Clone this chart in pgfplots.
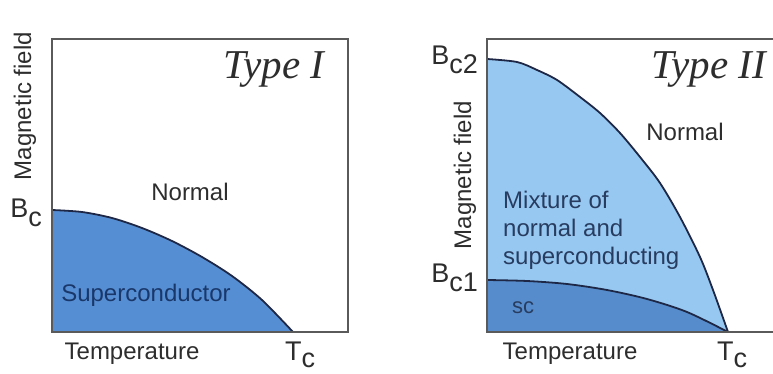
\documentclass[border=0pt]{standalone}
\usepackage{pgfplots}
\pgfplotsset{compat=1.18}
\usepackage{fontspec}
\setmainfont{Liberation Sans}
\newfontfamily\serifit{Liberation Serif}
\definecolor{leftfill}{RGB}{86,142,212}
\definecolor{lightfill}{RGB}{150,200,242}
\definecolor{scfill}{RGB}{86,140,204}
\definecolor{curvec}{RGB}{30,40,70}
\definecolor{boxc}{RGB}{90,90,90}
\definecolor{txt}{RGB}{45,45,45}
\definecolor{bluetxt}{RGB}{25,55,105}
\definecolor{navytxt}{RGB}{40,60,95}
\pgfplotsset{
  panel/.style={anchor=south west, scale only axis, width=296pt, height=293pt,
    xmin=0, xmax=296, ymin=0, ymax=293, xtick=\empty, ytick=\empty,
    axis on top, axis line style={draw=boxc, line width=2pt}, clip=false},
}
\tikzset{
  lab/.style={font=\fontsize{24}{28}\selectfont, inner sep=0pt, text=txt},
  sym/.style={font=\fontsize{27}{30}\selectfont, inner sep=0pt, text=txt},
  typ/.style={font=\serifit\itshape\fontsize{41}{44}\selectfont, inner sep=0pt, text=txt},
}
\begin{document}
\begin{tikzpicture}[x=1pt,y=1pt]
\useasboundingbox (0,0) rectangle (773,374);
% Type I
\begin{axis}[panel, at={(52pt,42pt)}]
\addplot[fill=leftfill, draw=none, smooth] coordinates {(0,122) (30,120) (60,114) (90,104) (120,91) (150,75) (180,56) (210,32) (241,0)} \closedcycle;
\addplot[draw=curvec, line width=1.8pt, smooth] coordinates {(0,122) (30,120) (60,114) (90,104) (120,91) (150,75) (180,56) (210,32) (241,0)};
\node[lab] at (axis cs:138,140) {Normal};
\node[lab, text=bluetxt] at (axis cs:94,37) {Superconductor};
\node[typ] at (axis cs:222,262) {Type I};
\node[lab, rotate=90] at (axis cs:-27,226) {Magnetic field};
\node[sym, anchor=base east] at (axis cs:-10,114) {B\raisebox{-9pt}{c}};
\node[lab, anchor=base] at (axis cs:80,-28) {Temperature};
\node[sym, anchor=base west] at (axis cs:233,-29) {T\raisebox{-7pt}{c}};
\end{axis}
% Type II
\begin{axis}[panel, at={(487pt,42pt)}]
\addplot[fill=lightfill, draw=none, smooth] coordinates {(0,273) (30,270) (50,262) (70,252) (93,235) (113,219) (133,199) (153,175) (173,149) (193,115) (213,75) (226,42) (241,0)} \closedcycle;
\addplot[fill=scfill, draw=none, smooth] coordinates {(0,52) (40,51) (80,48) (120,42) (160,33) (200,20) (241,0)} \closedcycle;
\addplot[draw=curvec, line width=1.8pt, smooth] coordinates {(0,273) (30,270) (50,262) (70,252) (93,235) (113,219) (133,199) (153,175) (173,149) (193,115) (213,75) (226,42) (241,0)};
\addplot[draw=curvec, line width=1.8pt, smooth] coordinates {(0,52) (40,51) (80,48) (120,42) (160,33) (200,20) (241,0)};
\node[lab] at (axis cs:198,200) {Normal};
\node[lab, text=navytxt, anchor=west, align=left] at (axis cs:16,102) {Mixture of\\normal and\\superconducting};
\node[lab, text=navytxt, font=\fontsize{22}{26}\selectfont] at (axis cs:36,24) {sc};
\node[typ] at (axis cs:222,262) {Type II};
\node[lab, rotate=90] at (axis cs:-22,157) {Magnetic field};
\node[sym, anchor=base east] at (axis cs:-9,267) {B\raisebox{-9pt}{c2}};
\node[sym, anchor=base east] at (axis cs:-9,49) {B\raisebox{-9pt}{c1}};
\node[lab, anchor=base] at (axis cs:83,-28) {Temperature};
\node[sym, anchor=base west] at (axis cs:230,-29) {T\raisebox{-7pt}{c}};
\end{axis}
\end{tikzpicture}
\end{document}
